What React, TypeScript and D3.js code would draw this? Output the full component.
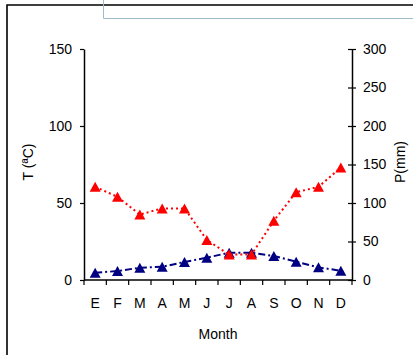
import React, { useRef, useEffect } from "react";
import * as d3 from "d3";

const WIDTH = 413;
const HEIGHT = 355;
const PLOT = { left: 84, right: 352, top: 49, bottom: 280 };

const months = ["E", "F", "M", "A", "M2", "J", "J2", "A2", "S", "O", "N", "D"];
const monthLabels = ["E", "F", "M", "A", "M", "J", "J", "A", "S", "O", "N", "D"];
const precipitation = [121, 108, 85, 93, 93, 52, 33, 33, 77, 114, 121, 146];
const temperature = [4.7, 5.8, 8.0, 8.6, 11.7, 14.5, 17.7, 17.7, 15.6, 11.9, 8.2, 6.0];
const tTicks = [0, 50, 100, 150];
const pTicks = [0, 50, 100, 150, 200, 250, 300];

const FONT = "'Liberation Sans', Arial, sans-serif";

export default function App() {
  const svgRef = useRef<SVGSVGElement>(null);

  useEffect(() => {
    document.body.style.margin = "0";
    const svg = d3.select(svgRef.current);
    svg.selectAll("*").remove();
    svg.attr("width", WIDTH).attr("height", HEIGHT).style("display", "block");

    const x = d3.scaleBand().domain(months).range([PLOT.left, PLOT.right]);
    const yT = d3.scaleLinear().domain([0, 150]).range([PLOT.bottom, PLOT.top]);
    const yP = d3.scaleLinear().domain([0, 300]).range([PLOT.bottom, PLOT.top]);
    const cx = (i: number) => (x(months[i]) as number) + x.bandwidth() / 2;

    svg.append("rect").attr("width", WIDTH).attr("height", HEIGHT).attr("fill", "#fff");

    // outer frame (only top and left edges are inside the crop)
    svg
      .append("path")
      .attr("d", `M7,${HEIGHT + 5}V5H${WIDTH + 5}`)
      .attr("fill", "none")
      .attr("stroke", "#000")
      .attr("stroke-width", 1.6);

    // light blue box peeking in at the top
    svg
      .append("path")
      .attr("d", `M103.5,0V18.5H${WIDTH + 5}`)
      .attr("fill", "none")
      .attr("stroke", "#9fbccb")
      .attr("stroke-width", 1);

    // left axis (T)
    const left = svg.append("g").attr("transform", `translate(${PLOT.left},0)`);
    left
      .call(d3.axisLeft(yT).tickValues(tTicks).tickSize(4).tickSizeOuter(0).tickPadding(8))
      .call((g) => g.select(".domain").attr("stroke-width", 1.5))
      .call((g) => g.selectAll(".tick line").attr("stroke-width", 1.2))
      .selectAll("text")
      .attr("font-family", FONT)
      .attr("font-size", 14)
      .attr("fill", "#000");

    // right axis (P), ticks cross the line
    const right = svg.append("g").attr("transform", `translate(${PLOT.right},0)`);
    right
      .call(d3.axisRight(yP).tickValues(pTicks).tickSize(4).tickSizeOuter(0).tickPadding(7))
      .call((g) => g.select(".domain").attr("stroke-width", 1.5))
      .call((g) => g.selectAll(".tick line").attr("x1", -4).attr("stroke-width", 1.2))
      .selectAll("text")
      .attr("font-family", FONT)
      .attr("font-size", 14)
      .attr("fill", "#000");

    // bottom axis
    const bottom = svg.append("g");
    bottom
      .append("line")
      .attr("x1", PLOT.left)
      .attr("x2", PLOT.right)
      .attr("y1", PLOT.bottom)
      .attr("y2", PLOT.bottom)
      .attr("stroke", "#000")
      .attr("stroke-width", 1.5);

    const edges = months.map((m) => x(m) as number).concat(PLOT.right);
    bottom
      .selectAll("line.tick")
      .data(edges)
      .join("line")
      .attr("class", "tick")
      .attr("x1", (d) => d)
      .attr("x2", (d) => d)
      .attr("y1", PLOT.bottom)
      .attr("y2", PLOT.bottom + 5)
      .attr("stroke", "#000")
      .attr("stroke-width", 1.2);

    bottom
      .selectAll("text.month")
      .data(monthLabels)
      .join("text")
      .attr("class", "month")
      .attr("x", (_, i) => cx(i))
      .attr("y", 308)
      .attr("text-anchor", "middle")
      .attr("font-family", FONT)
      .attr("font-size", 14)
      .text((d) => d);

    // axis titles
    svg
      .append("text")
      .attr("x", (PLOT.left + PLOT.right) / 2)
      .attr("y", 339)
      .attr("text-anchor", "middle")
      .attr("font-family", FONT)
      .attr("font-size", 14)
      .text("Month");

    svg
      .append("text")
      .attr("transform", `translate(33,162) rotate(-90)`)
      .attr("text-anchor", "middle")
      .attr("font-family", FONT)
      .attr("font-size", 14)
      .text("T (ªC)");

    svg
      .append("text")
      .attr("transform", `translate(405,162) rotate(-90)`)
      .attr("text-anchor", "middle")
      .attr("font-family", FONT)
      .attr("font-size", 14)
      .text("P(mm)");

    // triangle marker centred on its bounding box
    const tri = d3.line()([
      [0, -5],
      [5.5, 5],
      [-5.5, 5],
    ]) + "Z";

    const drawSeries = (
      values: number[],
      y: d3.ScaleLinear<number, number>,
      color: string,
      dash: string,
    ) => {
      const line = d3
        .line<number>()
        .x((_, i) => cx(i))
        .y((d) => y(d));
      svg
        .append("path")
        .datum(values)
        .attr("d", line)
        .attr("fill", "none")
        .attr("stroke", color)
        .attr("stroke-width", 2)
        .attr("stroke-dasharray", dash);
      svg
        .append("g")
        .selectAll("path")
        .data(values)
        .join("path")
        .attr("d", tri)
        .attr("transform", (d, i) => `translate(${cx(i)},${y(d)})`)
        .attr("fill", color);
    };

    drawSeries(temperature, yT, "#000080", "7,3,2,3");
    drawSeries(precipitation, yP, "#ff0000", "2,3");
  }, []);

  return <svg ref={svgRef} />;
}
